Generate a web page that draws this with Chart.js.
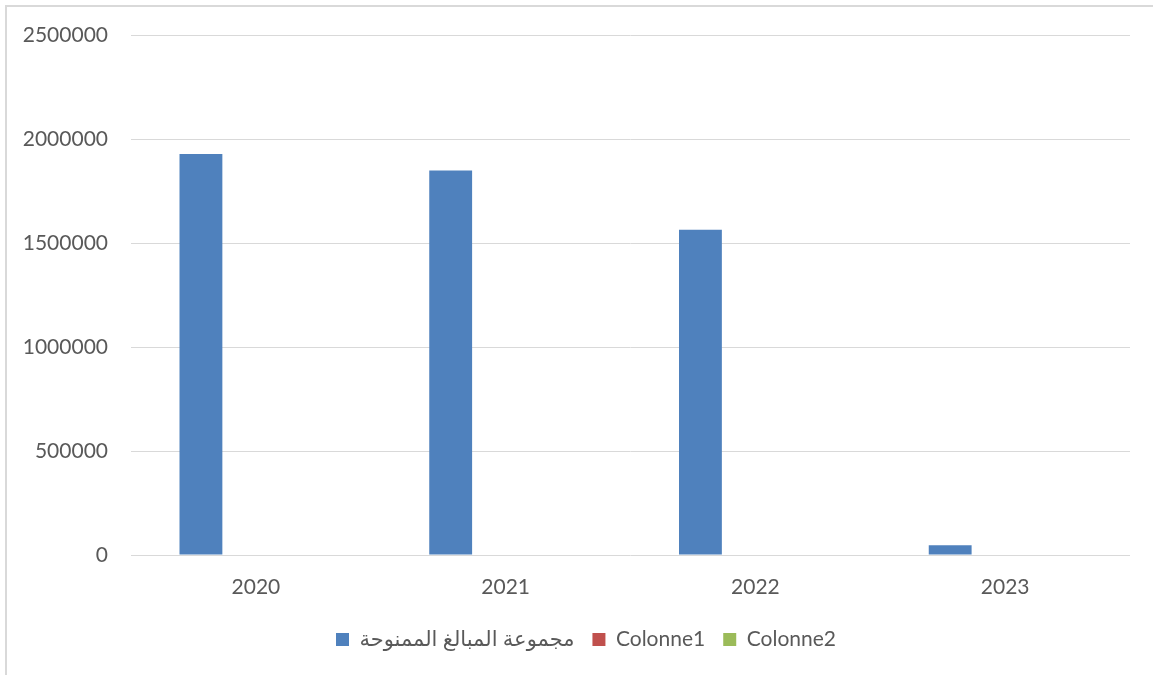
<!DOCTYPE html>
<html>
<head>
<meta charset="utf-8">
<script src="https://cdn.jsdelivr.net/npm/chart.js@4"></script>
<style>
  html, body { margin: 0; padding: 0; background: #fff; }
  #wrap { position: relative; width: 1153px; height: 675px; }
  #frame {
    position: absolute; left: 5px; top: 5px; right: 0; bottom: 0;
    border-left: 2px solid #d9d9d9; border-top: 2px solid #d9d9d9;
  }
  canvas { position: absolute; left: 0; top: 0; }
</style>
</head>
<body>
<div id="wrap">
  <div id="frame"></div>
  <canvas id="amounts" width="1153" height="675"></canvas>
</div>
<script>
const years = ['2020', '2021', '2022', '2023'];
const totalGranted = [1930000, 1851000, 1566000, 47000];
const colonne1 = [0, 0, 0, 0];
const colonne2 = [0, 0, 0, 0];
const yTicks = [0, 500000, 1000000, 1500000, 2000000, 2500000];

const textColor = '#595959';
const baseFont = { family: 'Lato, "DejaVu Sans", sans-serif', size: 21 };

// push the legend a bit to the right of the canvas centre
const legendShift = {
    id: 'legendShift',
    afterLayout(chart) {
        chart.legend.left += 21;
        chart.legend.right += 21;
    }
};

const ctx = document.getElementById('amounts');

new Chart(ctx, {
    type: 'bar',
    data: {
        labels: years,
        datasets: [{
                label: 'مجموعة المبالغ الممنوحة',
                data: totalGranted,
                backgroundColor: '#4f81bd',
                borderWidth: 0
            },
            {
                label: 'Colonne1',
                data: colonne1,
                backgroundColor: '#c0504d',
                borderWidth: 0
            },
            {
                label: 'Colonne2',
                data: colonne2,
                backgroundColor: '#9bbb59',
                borderWidth: 0
            }]
    },
    plugins: [legendShift],
    options: {
        responsive: false,
        animation: false,
        categoryPercentage: 0.66,
        barPercentage: 0.78,
        layout: {
            padding: { left: 0, right: 23, top: 35, bottom: 15 }
        },
        plugins: {
            tooltip: { enabled: false },
            legend: {
                position: 'bottom',
                labels: {
                    color: textColor,
                    font: baseFont,
                    boxWidth: 13,
                    boxHeight: 13,
                    padding: 18
                }
            }
        },
        scales: {
            x: {
                afterFit: s => { s.height = 56; },
                grid: { display: false, drawTicks: false },
                border: { display: false },
                ticks: { color: textColor, font: baseFont, padding: 20 }
            },
            y: {
                min: 0,
                max: yTicks[yTicks.length - 1],
                afterFit: s => { s.width = 131; },
                afterBuildTicks: s => { s.ticks = yTicks.map(v => ({ value: v })); },
                grid: { color: '#d9d9d9', lineWidth: 1, drawTicks: false },
                border: { display: false },
                ticks: {
                    color: textColor,
                    font: baseFont,
                    padding: 23,
                    callback: v => String(v)
                }
            }
        }
    }
});
</script>
</body>
</html>
